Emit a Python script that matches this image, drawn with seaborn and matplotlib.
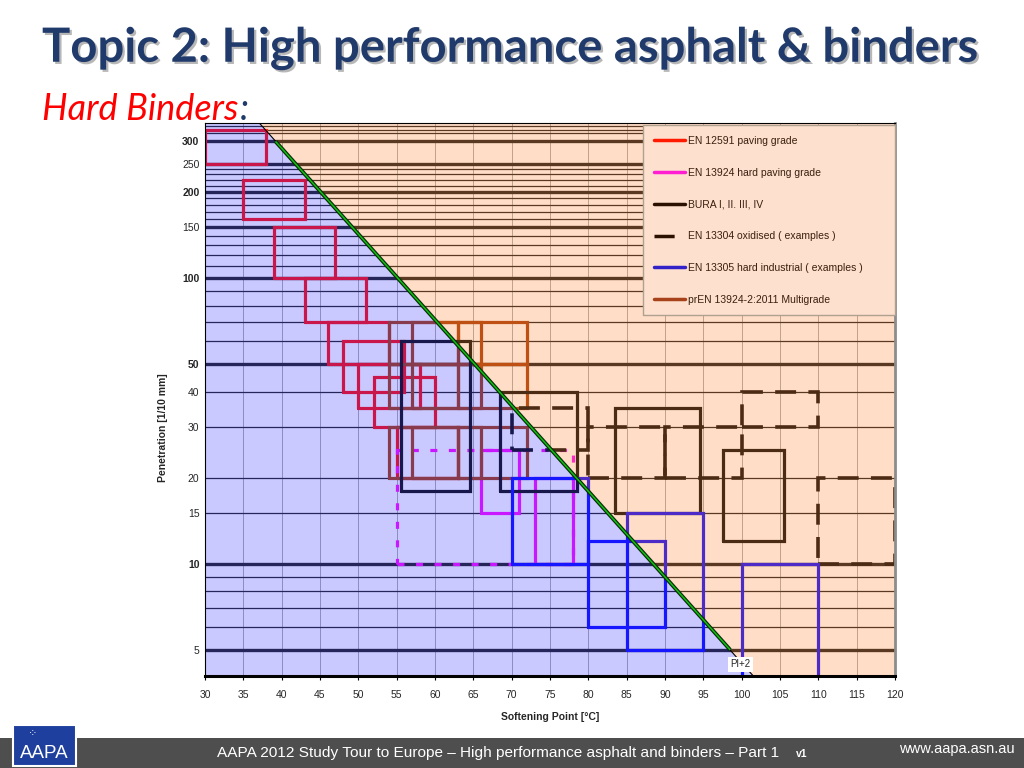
import matplotlib
matplotlib.use("Agg")
import matplotlib.pyplot as plt
import matplotlib.patheffects as pe
from matplotlib.lines import Line2D
from matplotlib.patches import Rectangle
from matplotlib.ticker import NullLocator
import seaborn as sns
import pandas as pd

sns.set_style("white")
plt.rcParams["font.family"] = ["Liberation Sans", "DejaVu Sans"]

# ---- data (softening point [C], penetration [1/10 mm]) ----
# EN 12591 paving grades
en12591_sp_lo = [30, 35, 39, 43, 46, 48, 50, 52, 55]
en12591_sp_hi = [38, 43, 47, 51, 54, 56, 58, 60, 63]
en12591_pen_lo = [250, 160, 100, 70, 50, 40, 35, 30, 20]
en12591_pen_hi = [330, 220, 150, 100, 70, 60, 50, 45, 30]

# prEN 13924-2:2011 multigrade
multi_sp_lo = [54, 57, 63, 54, 57, 63, 54, 57, 63]
multi_sp_hi = [63, 66, 72, 63, 66, 72, 63, 66, 72]
multi_pen_lo = [50, 50, 50, 35, 35, 35, 20, 20, 20]
multi_pen_hi = [70, 70, 70, 50, 50, 50, 30, 30, 30]

# EN 13924 hard paving grade (solid + one dashed)
hard_sp_lo = [66, 73]
hard_sp_hi = [71, 78]
hard_pen_lo = [15, 10]
hard_pen_hi = [25, 20]
hard_dash_sp_lo = [55]
hard_dash_sp_hi = [78]
hard_dash_pen_lo = [10]
hard_dash_pen_hi = [25]

# BURA I, II, III, IV
bura_sp_lo = [55.5, 68.5, 83.5, 97.5]
bura_sp_hi = [64.5, 78.5, 94.5, 105.5]
bura_pen_lo = [18, 18, 15, 12]
bura_pen_hi = [60, 40, 35, 25]

# EN 13304 oxidised (examples)
oxid_sp_lo = [70, 80, 90, 100, 110]
oxid_sp_hi = [80, 90, 100, 110, 120]
oxid_pen_lo = [25, 20, 20, 30, 10]
oxid_pen_hi = [35, 30, 30, 40, 20]

# EN 13305 hard industrial (examples)
ind_sp_lo = [70, 80, 85, 100]
ind_sp_hi = [80, 90, 95, 110]
ind_pen_lo = [10, 6, 5, 3]
ind_pen_hi = [20, 12, 15, 10]

# PI = +2 line
pi_sp = [37.0, 101.7]
pi_pen = [350, 4]
pi_green_sp = [39.2, 98.5]
pi_green_pen = [300, 5]

grid_pen = [5, 6, 7, 8, 9, 10, 15, 20, 30, 40, 50, 60, 70, 80, 90, 100, 110, 120,
            130, 140, 150, 160, 170, 180, 190, 200, 210, 220, 230, 240, 250, 300,
            320, 330, 340]
grid_pen_thick = [5, 10, 50, 100, 150, 200, 250, 300]
ytick_vals = [5, 10, 15, 20, 30, 40, 50, 100, 150, 200, 250, 300]
ytick_bold = [10, 50, 100, 200, 300]
xtick_vals = list(range(30, 121, 5))

legend_labels = ["EN 12591 paving grade", "EN 13924 hard paving grade",
                 "BURA I, II. III, IV", "EN 13304 oxidised ( examples )",
                 "EN 13305 hard industrial ( examples )",
                 "prEN 13924-2:2011 Multigrade"]


def boxes(sp_lo, sp_hi, pen_lo, pen_hi, name):
    rows = []
    for i, (a, b, c, d) in enumerate(zip(sp_lo, sp_hi, pen_lo, pen_hi)):
        for x, y in [(a, c), (b, c), (b, d), (a, d), (a, c)]:
            rows.append({"sp": x, "pen": y, "box": f"{name}{i}"})
    return pd.DataFrame(rows)


fig = plt.figure(figsize=(10.24, 7.68), dpi=100)
ax = fig.add_axes([205 / 1024, 92 / 768, 690 / 1024, 553 / 768])
ax.set_yscale("log")
ax.set_xlim(30, 120)
ax.set_ylim(4.05, 348)

# grid
for x in xtick_vals:
    ax.axvline(x, color="#a8a8a8", lw=0.7, zorder=0.8)
for p in grid_pen:
    ax.axhline(p, color="#141414", lw=2.4 if p in grid_pen_thick else 0.9, zorder=1)


def draw(df, color, lw=2.3, ls="-", z=2):
    sns.lineplot(data=df, x="sp", y="pen", units="box", estimator=None, sort=False,
                 color=color, lw=lw, linestyle=ls, ax=ax, legend=False, zorder=z,
                 solid_joinstyle="miter", dash_joinstyle="miter")


draw(boxes(en12591_sp_lo, en12591_sp_hi, en12591_pen_lo, en12591_pen_hi, "r"), "#ff0000", z=2)
draw(boxes(hard_dash_sp_lo, hard_dash_sp_hi, hard_dash_pen_lo, hard_dash_pen_hi, "md"),
     "#ff00ff", lw=2.3, ls=(0, (2.2, 3.6)), z=2.1)
draw(boxes(hard_sp_lo, hard_sp_hi, hard_pen_lo, hard_pen_hi, "m"), "#ff00ff", z=2.2)
draw(boxes(multi_sp_lo, multi_sp_hi, multi_pen_lo, multi_pen_hi, "g"), "#a23400", z=2.3)
draw(boxes(bura_sp_lo, bura_sp_hi, bura_pen_lo, bura_pen_hi, "b"), "#000000", z=2.4)
draw(boxes(oxid_sp_lo, oxid_sp_hi, oxid_pen_lo, oxid_pen_hi, "o"), "#000000",
     lw=2.6, ls=(0, (5.8, 3.4)), z=2.5)
draw(boxes(ind_sp_lo, ind_sp_hi, ind_pen_lo, ind_pen_hi, "i"), "#0000ff", z=2.6)

# tinted regions either side of the PI line
ax.fill([20, pi_sp[0], pi_sp[1], 20], [pi_pen[0], pi_pen[0], pi_pen[1], pi_pen[1]],
        color=(0.3, 0.3, 1.0), alpha=0.3, lw=0, zorder=4)
ax.fill([pi_sp[0], 130, 130, pi_sp[1]], [pi_pen[0], pi_pen[0], pi_pen[1], pi_pen[1]],
        color=(1.0, 0.57, 0.27), alpha=0.3, lw=0, zorder=4)

ax.plot(pi_sp, pi_pen, color="black", lw=0.8, zorder=6)
ax.plot(pi_green_sp, pi_green_pen, color="#0a2a0a", lw=2.8, zorder=6,
        solid_capstyle="butt")
ax.plot(pi_green_sp, pi_green_pen, color="#10c010", lw=1.1, zorder=6.1,
        solid_capstyle="butt")
ax.text(99.8, 4.45, "PI+2", fontsize=7, ha="center", va="center", zorder=9,
        bbox=dict(facecolor="white", edgecolor="none", pad=1.8))

# axes cosmetics
ax.set_xticks(xtick_vals)
ax.set_xticklabels([str(v) for v in xtick_vals])
ax.set_yticks(ytick_vals)
ax.set_yticklabels([str(v) for v in ytick_vals])
ax.yaxis.set_minor_locator(NullLocator())
for lbl, v in zip(ax.get_yticklabels(), ytick_vals):
    if v in ytick_bold:
        lbl.set_fontweight("bold")
ax.tick_params(axis="x", length=3, width=0.8, pad=7, labelsize=7.5, color="black",
               bottom=True)
ax.tick_params(axis="y", length=0, pad=4, labelsize=7.5)
ax.set_xlabel("Softening Point [°C]", fontsize=7.5, fontweight="bold")
ax.set_ylabel("Penetration [1/10 mm]", fontsize=7.5, fontweight="bold")
ax.xaxis.set_label_coords(0.5, -0.066)
ax.yaxis.set_label_coords(-0.053, 0.45)
for side in ["left", "top"]:
    ax.spines[side].set_color("black")
    ax.spines[side].set_linewidth(0.8)
ax.spines["right"].set_color("#8c8c8c")
ax.spines["right"].set_linewidth(2)
ax.spines["bottom"].set_color("black")
ax.spines["bottom"].set_linewidth(2.2)
for s in ax.spines.values():
    s.set_zorder(7)

handles = [Line2D([], [], color="#ff1a00", lw=2.5),
           Line2D([], [], color="#ff1ed2", lw=2.5),
           Line2D([], [], color="#2b1100", lw=2.5),
           Line2D([], [], color="#2b1100", lw=2.5, linestyle=(0, (5.8, 6))),
           Line2D([], [], color="#3322c8", lw=2.5),
           Line2D([], [], color="#a8421a", lw=2.5)]
leg = ax.legend(handles, legend_labels, loc="upper left",
                bbox_to_anchor=(0.635, 0.996, 0.365, 0), mode="expand",
                borderaxespad=0, fontsize=7.5, labelspacing=2.1, handlelength=3.0,
                handletextpad=0.3, borderpad=1.0, frameon=True, fancybox=False,
                facecolor="#fde0cd", edgecolor="#b0a090", framealpha=1,
                labelcolor="#3b2010")
leg.set_zorder(10)

# slide decoration
fig.text(0.041, 0.9375, "Topic 2: High performance asphalt & binders", fontsize=34,
         fontweight="bold", family=["Lato", "DejaVu Sans"], color="#1f3a6b", va="center",
         path_effects=[pe.withSimplePatchShadow(offset=(1.6, -1.6),
                                                 shadow_rgbFace="#888888", alpha=0.6)])
sub = fig.text(0.041, 0.857, "Hard Binders", fontsize=26, style="italic",
               family=["Lato", "DejaVu Sans"], color="#ff0000", va="center")
fig.canvas.draw()
bb = sub.get_window_extent().transformed(fig.transFigure.inverted())
fig.text(bb.x1 + 0.001, 0.857, ":", fontsize=26, style="italic",
         family=["Lato", "DejaVu Sans"], color="#1f3a6b", va="center")

fig.patches.append(Rectangle((0, 0), 1, 30 / 768, transform=fig.transFigure,
                             facecolor="#4e4e4e", edgecolor="none", zorder=0))
fig.patches.append(Rectangle((13 / 1024, 2 / 768), 63 / 1024, 41 / 768,
                             transform=fig.transFigure, facecolor="#1e3f9e",
                             edgecolor="white", lw=1.5, zorder=1))
fig.text(44 / 1024, 1 - 754 / 768, "AAPA", fontsize=13.5, color="white",
         ha="center", va="center")
fig.text(33 / 1024, 1 - 733 / 768, "⁘", fontsize=8, color="white",
         ha="center", va="center")
fig.text(217 / 1024, 1 - 753 / 768,
         "AAPA 2012 Study Tour to Europe – High performance asphalt and binders – Part 1",
         fontsize=11.1, color="white", va="center")
fig.text(796 / 1024, 1 - 754 / 768, "v1", fontsize=7.5, fontweight="bold",
         color="white", va="center")
fig.text(1015 / 1024, 1 - 749 / 768, "www.aapa.asn.au", fontsize=10.5,
         color="white", ha="right", va="center")

fig.savefig("out.png", dpi=100)
